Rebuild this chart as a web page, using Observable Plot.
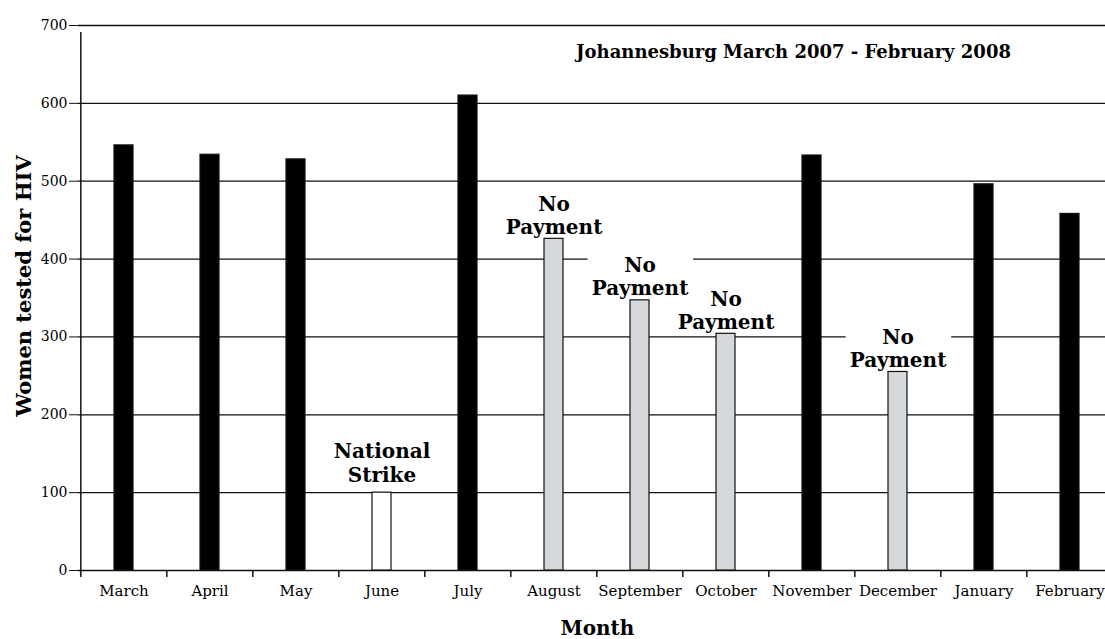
<!DOCTYPE html>
<html>
<head>
<meta charset="utf-8">
<script src="https://cdn.jsdelivr.net/npm/d3@7"></script>
<script src="https://cdn.jsdelivr.net/npm/@observablehq/plot@0.6"></script>
<style>
  html, body { margin: 0; padding: 0; background: white; overflow: hidden; }
</style>
</head>
<body>
<script>
const months = ["March", "April", "May", "June", "July", "August", "September", "October", "November", "December", "January", "February"];
const values = [546, 534, 528, 100, 610, 426, 347, 304, 533, 255, 496, 458];
const status = ["paid", "paid", "paid", "strike", "paid", "unpaid", "unpaid", "unpaid", "paid", "unpaid", "paid", "paid"];
const notes = ["", "", "", "National\nStrike", "", "No\nPayment", "No\nPayment", "No\nPayment", "", "No\nPayment", "", ""];
const yTicks = [0, 100, 200, 300, 400, 500, 600, 700];
const title = "Johannesburg March 2007 - February 2008";
const xLabel = "Month";
const yLabel = "Women tested for HIV";

const data = months.map((m, i) => ({month: m, value: values[i], status: status[i], note: notes[i]}));

const xStart = 78.3, xEnd = 1114.5;
const step = (xEnd - xStart) / months.length;

const plot = Plot.plot({
  width: 1105,
  height: 639,
  marginLeft: 78,
  marginRight: 0,
  marginTop: 25,
  marginBottom: 69,
  style: {fontFamily: "DejaVu Serif", fontSize: "14px", color: "black", background: "white"},
  x: {domain: months, range: [xStart, xEnd], paddingInner: 0.774, paddingOuter: 0.387, label: null},
  y: {domain: [0, 700], label: null},
  color: {domain: ["paid", "strike", "unpaid"], range: ["#000000", "#ffffff", "#d5d8db"]},
  marks: [
    Plot.ruleY(yTicks, {stroke: "#111", strokeWidth: 1.3}),
    Plot.ruleX(months, {x: d => d, y1: 0, y2: 0, insetBottom: -7, dx: -step / 2, stroke: "#111", strokeWidth: 1.5}),
    Plot.ruleX([months[0]], {x: d => d, y1: 0, y2: 700, insetBottom: -7, dx: -step / 2, stroke: "#111", strokeWidth: 1.5}),
    Plot.axisY({ticks: yTicks, tickSize: 9, tickPadding: 2, fontSize: 14, label: null, stroke: "#111"}),
    Plot.axisX({tickSize: 0, tickPadding: 15, fontSize: 15, label: null}),
    Plot.barY(data, {x: "month", y: "value", fill: "status", stroke: "#111", strokeWidth: 1.2}),
    Plot.text(data.filter(d => d.note && d.status === "unpaid"), {
      x: "month", y: "value", text: "note", lineAnchor: "bottom", dy: -5,
      fontWeight: "bold", fontSize: 20, lineHeight: 1.165, fill: "black"
    }),
    Plot.text(data.filter(d => d.note && d.status === "strike"), {
      x: "month", y: "value", text: "note", lineAnchor: "bottom", dy: -11,
      fontWeight: "bold", fontSize: 20, lineHeight: 1.165, fill: "black"
    }),
    Plot.text([title], {text: d => d, frameAnchor: "top", dx: 201.5, dy: 27, lineAnchor: "middle", textAnchor: "middle",
      fontWeight: "bold", fontSize: 18, fill: "black"}),
    Plot.text([xLabel], {text: d => d, frameAnchor: "bottom", dx: 5.5, dy: 58, lineAnchor: "middle", textAnchor: "middle",
      fontWeight: "bold", fontSize: 20, fill: "black"}),
    Plot.text([yLabel], {text: d => d, frameAnchor: "left", dx: -54, dy: -12, rotate: -90, lineAnchor: "middle", textAnchor: "middle",
      fontWeight: "bold", fontSize: 21, fill: "black"})
  ]
});

document.body.appendChild(plot);

// white boxes behind the bar annotations (they hide the gridlines, as in the original)
const noteSet = new Set(notes.filter(n => n).map(n => n.replace(/\n/g, "")));
const ns = "http://www.w3.org/2000/svg";
const boxes = document.createElementNS(ns, "g");
boxes.setAttribute("aria-label", "annotation boxes");
const barGroup = plot.querySelector('g[aria-label="bar"]');
plot.querySelectorAll("text").forEach(t => {
  if (!noteSet.has(t.textContent.trim())) return;
  const b = t.getBBox();
  const r = document.createElementNS(ns, "rect");
  r.setAttribute("x", b.x - 4);
  r.setAttribute("y", b.y - 1);
  r.setAttribute("width", b.width + 8);
  r.setAttribute("height", b.height + 2);
  r.setAttribute("fill", "white");
  r.setAttribute("stroke", "none");
  const gt = t.parentNode.getAttribute("transform") || "";
  const tt = t.getAttribute("transform") || "";
  r.setAttribute("transform", (gt + " " + tt).trim());
  boxes.appendChild(r);
});
barGroup.parentNode.insertBefore(boxes, barGroup);
</script>
</body>
</html>
